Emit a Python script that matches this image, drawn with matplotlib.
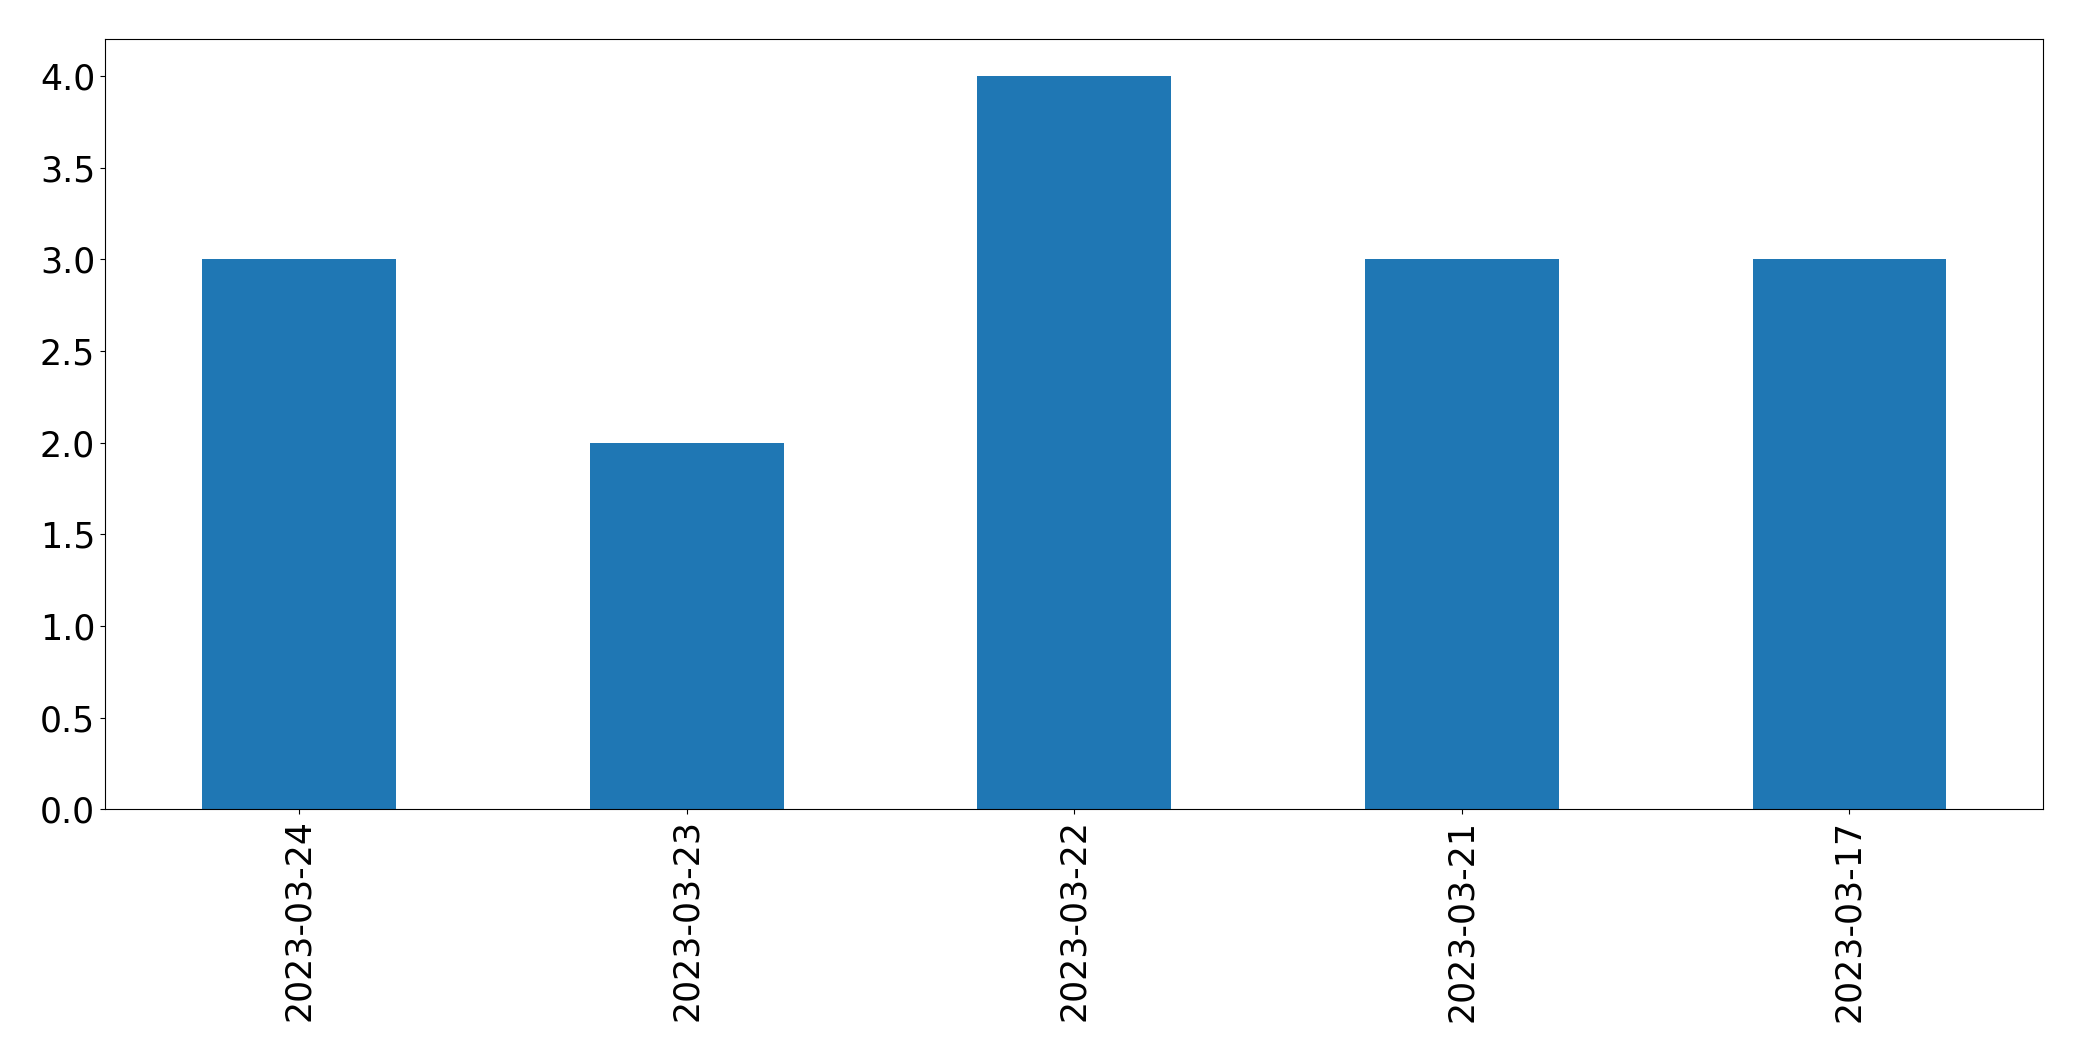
import matplotlib
matplotlib.use("Agg")
import matplotlib.pyplot as plt
import pandas as pd

dates = ["2023-03-24", "2023-03-23", "2023-03-22", "2023-03-21", "2023-03-17"]
counts = [3, 2, 4, 3, 3]

s = pd.Series(counts, index=dates)

fig = plt.figure(figsize=(20.82, 10.61), dpi=100)
ax = fig.add_subplot(111)
s.plot(kind="bar", ax=ax, color="#1f77b4", fontsize=25)
ax.set_xlabel("")
ax.tick_params(length=3.8)
fig.subplots_adjust(left=0.0506, right=0.9814, top=0.963, bottom=0.2372)
fig.savefig("out.png", dpi=100)
